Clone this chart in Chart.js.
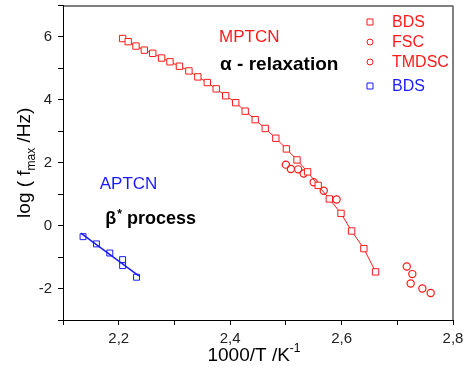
<!DOCTYPE html>
<html>
<head>
<meta charset="utf-8">
<script src="https://cdn.jsdelivr.net/npm/chart.js@4"></script>
<style>
  html, body { margin: 0; padding: 0; background: #fff; }
</style>
</head>
<body>
<canvas id="chart1" width="465" height="382"></canvas>
<script>
// MPTCN, alpha relaxation (red)
const bdsX = [2.207, 2.217, 2.231, 2.246, 2.261, 2.277, 2.292, 2.309, 2.326, 2.342, 2.359, 2.375, 2.392,
  2.410, 2.427, 2.445, 2.463, 2.482, 2.501, 2.520, 2.539, 2.558, 2.578, 2.599, 2.618, 2.640, 2.661];
const bdsY = [5.95, 5.85, 5.71, 5.58, 5.48, 5.33, 5.21, 5.07, 4.92, 4.73, 4.55, 4.35, 4.13,
  3.91, 3.64, 3.37, 3.09, 2.78, 2.44, 2.09, 1.71, 1.28, 0.85, 0.39, -0.17, -0.73, -1.47];
const fscX = [2.500, 2.509, 2.522, 2.532, 2.550, 2.568, 2.591];
const fscY = [1.94, 1.80, 1.79, 1.66, 1.38, 1.11, 0.83];
const tmdscX = [2.717, 2.727, 2.724, 2.745, 2.760];
const tmdscY = [-1.30, -1.54, -1.84, -2.00, -2.14];
// APTCN, beta* process (blue)
const aptX = [2.136, 2.160, 2.184, 2.207, 2.207, 2.232];
const aptY = [-0.35, -0.58, -0.87, -1.08, -1.27, -1.64];

const xTicks = [2.2, 2.4, 2.6, 2.8];
const yTicks = [-2, 0, 2, 4, 6];

const RED = '#ff1a1a';
const BLUE = '#1a1aff';

function pts(xs, ys) {
  return xs.map((x, i) => ({ x: x, y: ys[i] }));
}

// least squares line through the APTCN points
function fitLine(xs, ys) {
  const n = xs.length;
  const mx = xs.reduce((a, b) => a + b, 0) / n;
  const my = ys.reduce((a, b) => a + b, 0) / n;
  let sxy = 0, sxx = 0;
  for (let i = 0; i < n; i++) {
    sxy += (xs[i] - mx) * (ys[i] - my);
    sxx += (xs[i] - mx) * (xs[i] - mx);
  }
  const k = sxy / sxx;
  const x0 = Math.min(...xs) - 0.004, x1 = Math.max(...xs) + 0.004;
  return [{ x: x0, y: my + k * (x0 - mx) }, { x: x1, y: my + k * (x1 - mx) }];
}

const FONT = "'Liberation Sans', Arial, sans-serif";

const decor = {
  id: 'decor',
  afterDraw(chart) {
    const ctx = chart.ctx;
    const a = chart.chartArea;
    const xs = chart.scales.x, ys = chart.scales.y;
    ctx.save();
    // top and right frame
    ctx.strokeStyle = '#000';
    ctx.lineWidth = 1;
    ctx.beginPath();
    ctx.moveTo(a.left, a.top + 0.5);
    ctx.lineTo(a.right, a.top + 0.5);
    ctx.stroke();
    ctx.strokeStyle = '#808080';
    ctx.lineWidth = 2;
    ctx.beginPath();
    ctx.moveTo(a.right, a.top);
    ctx.lineTo(a.right, a.bottom);
    ctx.stroke();

    // annotations
    ctx.textBaseline = 'alphabetic';
    ctx.textAlign = 'left';
    ctx.fillStyle = RED;
    ctx.font = '17px ' + FONT;
    ctx.fillText('MPTCN', xs.getPixelForValue(2.380), ys.getPixelForValue(5.83));
    ctx.fillStyle = '#000';
    ctx.font = 'bold 19px ' + FONT;
    ctx.fillText('\u03b1 - relaxation', xs.getPixelForValue(2.382), ys.getPixelForValue(4.96));
    ctx.fillStyle = BLUE;
    ctx.font = '17px ' + FONT;
    ctx.fillText('APTCN', xs.getPixelForValue(2.166), ys.getPixelForValue(1.17));
    ctx.fillStyle = '#000';
    ctx.font = 'bold 18px ' + FONT;
    const bx = xs.getPixelForValue(2.176), by = ys.getPixelForValue(0.06);
    ctx.fillText('\u03b2', bx, by);
    let w = ctx.measureText('\u03b2').width;
    ctx.font = 'bold 12px ' + FONT;
    ctx.fillText('*', bx + w + 1, by - 6);
    w += ctx.measureText('*').width + 1;
    ctx.font = 'bold 18px ' + FONT;
    ctx.fillText(' process', bx + w, by);

    // legend
    const items = [
      { t: 'BDS', c: RED, s: 'rect', y: 22 },
      { t: 'FSC', c: RED, s: 'circle', y: 42 },
      { t: 'TMDSC', c: RED, s: 'circle', y: 62 },
      { t: 'BDS', c: BLUE, s: 'rect', y: 86 }
    ];
    ctx.font = '16px ' + FONT;
    ctx.textBaseline = 'middle';
    ctx.lineWidth = 1;
    items.forEach(it => {
      ctx.strokeStyle = it.c;
      ctx.beginPath();
      if (it.s === 'rect') ctx.rect(367, it.y - 3, 6, 6);
      else ctx.arc(370, it.y, 3, 0, Math.PI * 2);
      ctx.stroke();
      ctx.fillStyle = it.c;
      ctx.fillText(it.t, 392, it.y + 1);
    });

    // axis titles
    ctx.fillStyle = '#000';
    ctx.textBaseline = 'alphabetic';
    ctx.font = '19px ' + FONT;
    const p1 = '1000/T /K';
    const w1 = ctx.measureText(p1).width;
    ctx.font = '12px ' + FONT;
    const w2 = ctx.measureText('-1').width;
    let tx = (a.left + a.right) / 2 - (w1 + w2) / 2 - 4;
    ctx.font = '19px ' + FONT;
    ctx.fillText(p1, tx, 361);
    ctx.font = '12px ' + FONT;
    ctx.fillText('-1', tx + w1, 352);

    ctx.translate(30, (a.top + a.bottom) / 2);
    ctx.rotate(-Math.PI / 2);
    const parts = [['log ( f', 19, 0], ['max', 12, 5], [' /Hz)', 19, 0]];
    let total = 0;
    parts.forEach(p => { ctx.font = p[1] + 'px ' + FONT; total += ctx.measureText(p[0]).width; });
    let px = -total / 2;
    parts.forEach(p => {
      ctx.font = p[1] + 'px ' + FONT;
      ctx.fillText(p[0], px, p[2]);
      px += ctx.measureText(p[0]).width;
    });
    ctx.restore();
  }
};

const ctx1 = document.getElementById('chart1');

new Chart(ctx1, {
  type: 'scatter',
  data: {
    datasets: [
      {
        label: 'BDS',
        data: pts(bdsX, bdsY),
        showLine: true,
        borderColor: RED,
        borderWidth: 1,
        pointStyle: 'rect',
        pointRadius: 4.5,
        pointBorderColor: RED,
        pointBackgroundColor: '#fff',
        pointBorderWidth: 1
      },
      {
        label: 'FSC',
        data: pts(fscX, fscY),
        pointStyle: 'circle',
        pointRadius: 3.6,
        pointBorderColor: RED,
        pointBackgroundColor: 'rgba(0,0,0,0)',
        pointBorderWidth: 1.2
      },
      {
        label: 'TMDSC',
        data: pts(tmdscX, tmdscY),
        pointStyle: 'circle',
        pointRadius: 3.6,
        pointBorderColor: RED,
        pointBackgroundColor: 'rgba(0,0,0,0)',
        pointBorderWidth: 1.2
      },
      {
        label: 'BDS APTCN',
        data: pts(aptX, aptY),
        pointStyle: 'rect',
        pointRadius: 4.2,
        pointBorderColor: BLUE,
        pointBackgroundColor: 'rgba(0,0,0,0)',
        pointBorderWidth: 1
      },
      {
        label: 'fit',
        data: fitLine(aptX, aptY),
        showLine: true,
        borderColor: BLUE,
        borderWidth: 1.5,
        pointRadius: 0
      }
    ]
  },
  options: {
    responsive: false,
    animation: false,
    devicePixelRatio: 1,
    layout: { padding: { top: 5, right: 12, left: 0, bottom: 0 } },
    plugins: { legend: { display: false }, tooltip: { enabled: false } },
    scales: {
      x: {
        type: 'linear',
        min: 2.1,
        max: 2.8,
        afterFit: s => { s.height = 62; s.paddingLeft = 0; s.paddingRight = 0; },
        ticks: {
          stepSize: 0.1,
          padding: 5,
          color: '#222',
          font: { size: 15, family: FONT },
          maxRotation: 0,
          autoSkip: false,
          callback: v => xTicks.some(t => Math.abs(t - v) < 1e-6) ? v.toFixed(1).replace('.', ',') : ''
        },
        grid: { drawOnChartArea: false, drawTicks: true, tickLength: 5, color: '#000' },
        border: { display: true, color: '#000', width: 1 }
      },
      y: {
        type: 'linear',
        min: -3,
        max: 7,
        afterFit: s => { s.width = 63; s.paddingTop = 0; s.paddingBottom = 0; },
        ticks: {
          stepSize: 1,
          padding: 6,
          color: '#222',
          font: { size: 15, family: FONT },
          autoSkip: false,
          callback: v => yTicks.includes(v) ? String(v) : ''
        },
        grid: { drawOnChartArea: false, drawTicks: true, tickLength: 5, color: '#000' },
        border: { display: true, color: '#000', width: 1 }
      }
    }
  },
  plugins: [decor]
});
</script>
</body>
</html>
